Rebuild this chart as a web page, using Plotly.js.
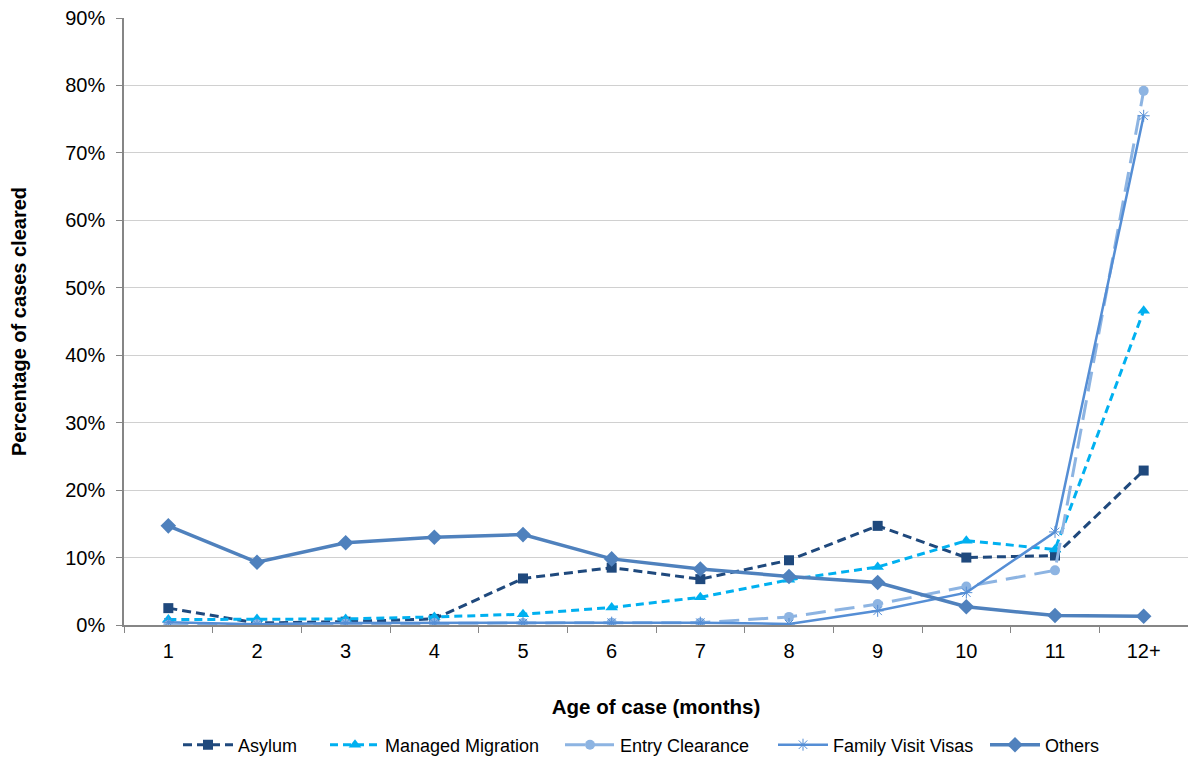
<!DOCTYPE html>
<html><head><meta charset="utf-8">
<script src="https://cdn.plot.ly/plotly-3.0.1.min.js"></script>
<style>body{margin:0;background:#fff}#chart{width:1188px;height:760px}</style>
</head><body><div id="chart"></div>
<script>
var categories = ["1","2","3","4","5","6","7","8","9","10","11","12+"];
var asylum = [0.025,0.003,0.005,0.009,0.069,0.085,0.068,0.096,0.147,0.100,0.103,0.229];
var managedMigration = [0.008,0.009,0.009,0.012,0.016,0.026,0.041,0.067,0.086,0.125,0.112,0.466];
var entryClearance = [0.000,0.001,0.002,0.003,0.003,0.0035,0.0035,0.012,0.031,0.057,0.081,0.792];
var familyVisitVisas = [0.004,0.001,0.003,0.003,0.003,0.0035,0.0035,0.0015,0.021,0.048,0.138,0.755];
var others = [0.147,0.093,0.122,0.130,0.134,0.098,0.083,0.072,0.063,0.027,0.014,0.013];
var yTickVals = [0,0.1,0.2,0.3,0.4,0.5,0.6,0.7,0.8,0.9];

var traces = [
 {name:"Asylum", y:asylum, legend:"legend", line:{color:"#1F497D",width:3,dash:"9px,5px"}, marker:{symbol:"square",size:10,color:"#1F497D"}},
 {name:"Managed Migration", y:managedMigration, legend:"legend2", line:{color:"#00B0F0",width:3,dash:"8px,5px"}, marker:{symbol:"triangle-up",size:11,color:"#00B0F0"}},
 {name:"Entry Clearance", y:entryClearance, legend:"legend3", line:{color:"#8DB4E2",width:3,dash:"20px,9px"}, marker:{symbol:"circle",size:10,color:"#8DB4E2"}},
 {name:"Family Visit Visas", y:familyVisitVisas, legend:"legend4", line:{color:"#558ED5",width:2.5}, marker:{symbol:"asterisk-open",size:10,color:"#558ED5",line:{color:"#558ED5",width:1}}},
 {name:"Others", y:others, legend:"legend5", line:{color:"#4F81BD",width:3.5}, marker:{symbol:"diamond",size:12,color:"#4F81BD"}}
].map(function(t){t.x=categories;t.type="scatter";t.mode="lines+markers";return t;});

function leg(px){return {orientation:"h",xref:"container",x:(px)/1188,xanchor:"left",yref:"container",y:(760-745)/760,yanchor:"middle",font:{size:18},itemwidth:50,bgcolor:"rgba(0,0,0,0)"};}

var layout = {
 width:1188,height:760,
 margin:{l:124,r:0,t:18,b:135,autoexpand:false},
 paper_bgcolor:"#fff",plot_bgcolor:"#fff",
 font:{family:"Liberation Sans, Arial, sans-serif",size:20,color:"#000"},
 showlegend:true,
 legend:leg(178), legend2:leg(325), legend3:leg(560), legend4:leg(773), legend5:leg(985),
 xaxis:{type:"category",range:[-0.5,11.5],automargin:false,showgrid:false,showline:true,linecolor:"#868686",linewidth:1.5,
   ticks:"outside",tickson:"boundaries",ticklen:6,tickcolor:"#868686",tickfont:{size:20},ticklabelstandoff:7,
   title:{text:"<b>Age of case (months)</b>",font:{size:20.5},standoff:39},zeroline:false},
 yaxis:{range:[0,0.9],automargin:false,tickvals:yTickVals,tickformat:".0%",showgrid:true,gridcolor:"#D0D0D0",gridwidth:1,
   showline:true,linecolor:"#868686",linewidth:1.5,ticks:"outside",ticklen:6,tickcolor:"#868686",tickfont:{size:20},ticklabelstandoff:7,
   title:{text:"<b>Percentage of cases cleared</b>",font:{size:20},standoff:33},zeroline:false}
};
Plotly.newPlot("chart",traces,layout,{displayModeBar:false});
</script></body></html>
